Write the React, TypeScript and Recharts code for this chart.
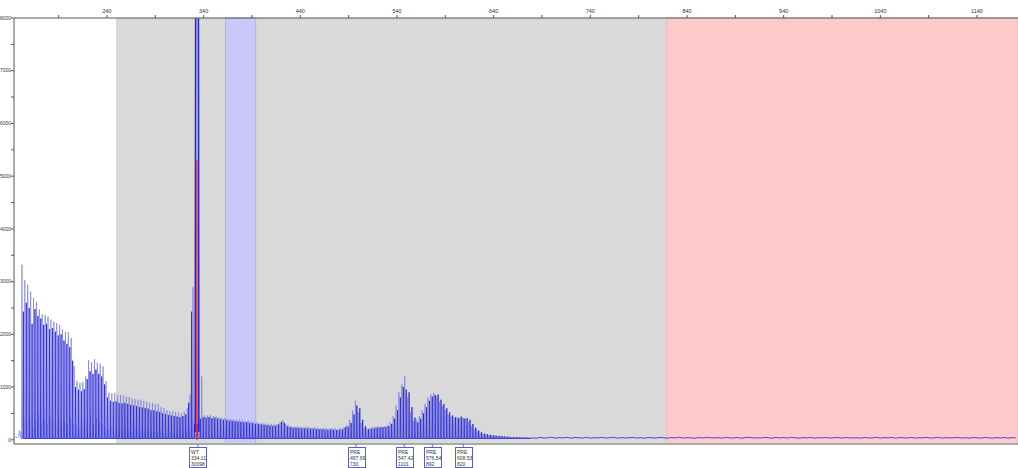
import React from "react";
import { ComposedChart, Line, XAxis, YAxis, ReferenceArea } from "recharts";

// size-standard window (bp) and signal scale
const X_MIN = 143.8;
const X_MAX = 1182.4;
const Y_MIN = -80;
const Y_MAX = 8000;

const TOP_TICKS = [190, 240, 290, 340, 390, 440, 490, 540, 590, 640, 690, 740, 790, 840, 890, 940, 990, 1040, 1090, 1140];
const Y_TICKS = [0, 500, 1000, 1500, 2000, 2500, 3000, 3500, 4000, 4500, 5000, 5500, 6000, 6500, 7000, 7500, 8000];

// shaded bins
const SIZED_RANGE = [249.3, 819];
const MARKER_BAND = [362.7, 393.8];
const OUT_RANGE = [819, 1182.4];

// peak ladder: first peak at 152 bp, one every 3 bp; second set sits 1.5 bp later
const PEAK_START = 152;
const PEAK_STEP = 3;
const DARK_OFFSET = 1.5;
const VALLEY = 25;

const LIGHT_PEAKS = [
  3320, 3030, 2940, 2810, 2690, 2620, 2470, 2380, 2370, 2340, 2280, 2240, 2210, 2180, 2090, 2050, 2040, 1930,
  1390, 1110, 1080, 1100, 1200, 1510, 1470, 1530, 1460, 1440, 1390, 1110,
  890, 880, 890, 850, 850, 840, 820, 810, 780, 770, 760, 760, 740, 720, 700, 700, 680, 680, 620, 600,
  560, 540, 540, 530, 520, 500, 530, 600, 850,
  2900, 300, 300, 1200,
  470, 460, 470, 450, 440, 430, 420, 410, 400, 395, 390, 380, 380, 370, 360, 360, 350, 340, 330, 320,
  320, 310, 300, 300, 290, 300, 330, 370, 300, 270, 260, 250, 260, 250, 240, 250, 240, 230, 240, 230,
  220, 230, 220, 210, 220, 220, 210, 220, 230,
  280, 380, 560, 740, 520, 320, 240, 210, 230, 240, 250, 250, 250, 260, 280, 330, 450, 650, 900, 1050,
  1200, 800, 520, 350, 380, 450, 560, 680, 800, 860, 890, 820, 720, 640, 560, 480, 440, 420, 430, 420,
  420, 400, 330, 260, 200, 160, 130, 110, 100, 90, 80, 80, 70, 70, 60, 60, 60, 50, 50, 50, 50, 45, 45, 40,
];

const DARK_PEAKS = [
  2430, 2600, 2500, 2200, 2480, 2350, 2300, 2180, 2200, 2100, 2120, 2050, 1980, 2000, 1880, 1820, 1760, 1500,
  1000, 950, 920, 960, 1150, 1300, 1250, 1330, 1250, 1200, 1050, 800,
  740, 720, 730, 700, 690, 700, 680, 660, 650, 640, 620, 610, 600, 590, 560, 560, 540, 530, 500, 490,
  470, 460, 450, 440, 430, 450, 480, 700,
  2430, 300, 300, 400, 430,
  420, 430, 410, 420, 400, 390, 380, 370, 360, 360, 350, 345, 340, 330, 330, 320, 315, 300, 300, 290,
  285, 280, 270, 265, 270, 290, 340, 320, 260, 240, 230, 230, 225, 220, 220, 215, 210, 210, 205, 200,
  200, 195, 190, 195, 190, 185, 190, 200, 240,
  250, 320, 480, 650, 600, 380, 260, 200, 210, 220, 230, 235, 240, 240, 260, 300, 400, 560, 800, 1000,
  950, 900, 620, 420, 330, 400, 500, 620, 740, 820, 850, 860, 760, 680, 600, 520, 460, 430, 410, 440,
  400, 410, 380, 300, 230, 180, 150, 120, 105, 95, 85, 80, 75, 70, 65, 60, 55, 55, 50, 50, 45, 45, 40, 40,
];

// small stutter bumps under the ladder, first 60 peaks (sit 0.8 bp before each light peak)
const STUTTER = [
  150, 380, 300, 420, 260, 350, 480, 300, 380, 280, 420, 330, 260, 400, 300, 350, 280, 420, 300, 240,
  200, 260, 310, 380, 450, 300, 420, 350, 300, 250, 200, 260, 180, 240, 200, 160, 220, 180, 150, 200,
  170, 140, 180, 150, 130, 160, 140, 120, 150, 130, 110, 140, 120, 100, 130, 110, 120, 150, 200, 400,
];

// noise before the ladder
const LEAD_IN = [
  { x: 144, y: 30 }, { x: 145.5, y: 55 }, { x: 147, y: 35 }, { x: 148.5, y: 60 }, { x: 149.5, y: 180 }, { x: 150.5, y: 40 },
];

// baseline noise after the ladder, every 4 bp from 680
const TAIL_START = 680;
const TAIL_STEP = 4;
const TAIL = [
  40, 28, 45, 32, 38, 48, 30, 42, 35, 46, 30, 44, 38, 32, 47, 30, 41, 36, 46, 33, 39, 48, 30, 42, 35, 38, 46, 32,
  42, 29, 44, 37, 33, 46, 39, 30, 43, 35, 47, 32, 41, 37, 29, 44, 34, 46, 39, 35, 42, 30, 46, 37, 33, 44, 29, 41,
  47, 35, 38, 33, 44, 39, 29, 46, 35, 42, 33, 47, 37, 31, 43, 35, 46, 30, 41, 37, 44, 33, 39, 46, 31, 43, 37, 35,
  40, 30, 45, 34, 38, 47, 31, 42, 36, 45, 30, 43, 38, 33, 46, 31, 40, 36, 45, 32, 39, 47, 30, 41, 35, 38, 45, 33,
  41, 30, 44, 36, 33, 45, 38, 31, 42, 35, 44, 32, 40, 37,
];

// saturated WT peak (off scale) and its red channel
const WT_BLUE = [
  { x: 331.2, y: 150 }, { x: 331.8, y: 9000 }, { x: 334.5, y: 9000 }, { x: 335.0, y: 150 },
];
const WT_RED = [
  { x: 332.8, y: 0 }, { x: 333.0, y: 5300 }, { x: 333.2, y: 0 },
];

// called peaks
const CALL_POS = [334.11, 497.69, 547.42, 576.54, 608.53];
const CALL_NAME = ["WT", "PRE", "PRE", "PRE", "PRE"];
const CALL_SIZE = ["334.11", "497.69", "547.42", "576.54", "608.53"];
const CALL_HEIGHT = ["30098", "730", "1101", "892", "820"];

function spikes(heights: number[], start: number, half = 0.35) {
  const pts: { x: number; y: number }[] = [];
  heights.forEach((h, i) => {
    const c = start + i * PEAK_STEP;
    pts.push({ x: c - half, y: VALLEY });
    pts.push({ x: c, y: h });
    pts.push({ x: c + half, y: VALLEY });
  });
  return pts;
}

const lightData = [...LEAD_IN, ...spikes(LIGHT_PEAKS, PEAK_START)];
const stutterData = spikes(STUTTER, PEAK_START - 0.8, 0.3);
const darkData = [
  ...spikes(DARK_PEAKS, PEAK_START + DARK_OFFSET),
  ...TAIL.map((v, i) => ({ x: TAIL_START + i * TAIL_STEP, y: v })),
];

const FONT = "'Liberation Sans', Arial, sans-serif";

function CallTick(props: any) {
  const { x, y, payload } = props;
  const i = CALL_POS.indexOf(payload.value);
  if (i < 0) return null;
  const left = Math.round(x - 8.5) + 0.5;
  const top = y + 3.5;
  return (
    <g>
      <line x1={x} y1={y} x2={x} y2={top} stroke="#6a6ad0" />
      <rect x={left} y={top} width={17} height={20} fill="#fff" stroke="#5a5acc" />
      <text x={left + 1.5} y={top + 6} fontSize={5} fill="#333" fontFamily={FONT}>{CALL_NAME[i]}</text>
      <text x={left + 1.5} y={top + 12} fontSize={5} fill="#333" fontFamily={FONT}>{CALL_SIZE[i]}</text>
      <text x={left + 1.5} y={top + 18} fontSize={5} fill="#333" fontFamily={FONT}>{CALL_HEIGHT[i]}</text>
    </g>
  );
}

export default function App() {
  return (
    <div style={{ width: 1018, height: 468, background: "#fff" }}>
      <style>{`body{margin:0}`}</style>
      <ComposedChart width={1018} height={468} margin={{ top: 0, right: 0, bottom: 0, left: 0 }}>
        <XAxis
          xAxisId="bp"
          type="number"
          dataKey="x"
          orientation="top"
          domain={[X_MIN, X_MAX]}
          allowDataOverflow
          ticks={TOP_TICKS}
          interval={0}
          height={18}
          tickSize={3}
          tickMargin={2}
          tickFormatter={(v: number) => ((v - 240) % 100 === 0 ? String(v) : "")}
          tick={{ fontSize: 5.5, fill: "#333", fontFamily: FONT }}
          axisLine={{ stroke: "#555" }}
          tickLine={{ stroke: "#555" }}
        />
        <XAxis
          xAxisId="calls"
          type="number"
          dataKey="x"
          orientation="bottom"
          domain={[X_MIN, X_MAX]}
          allowDataOverflow
          ticks={CALL_POS}
          interval={0}
          height={24}
          tickSize={0}
          tickMargin={0}
          tickLine={false}
          tick={<CallTick />}
          axisLine={{ stroke: "#aaa", strokeWidth: 2 }}
        />
        <YAxis
          type="number"
          domain={[Y_MIN, Y_MAX]}
          allowDataOverflow
          ticks={Y_TICKS}
          interval={0}
          width={14}
          tickSize={3}
          tickMargin={0}
          tickFormatter={(v: number) => (v % 1000 === 0 ? String(v) : "")}
          tick={{ fontSize: 5, fill: "#333", fontFamily: FONT }}
          axisLine={{ stroke: "#555" }}
          tickLine={{ stroke: "#555" }}
        />

        <ReferenceArea xAxisId="bp" x1={SIZED_RANGE[0]} x2={SIZED_RANGE[1]} y1={Y_MIN} y2={Y_MAX} fill="#d9d9d9" fillOpacity={1} stroke="none" />
        <ReferenceArea xAxisId="bp" x1={MARKER_BAND[0]} x2={MARKER_BAND[1]} y1={Y_MIN} y2={Y_MAX} fill="#c9c9fb" fillOpacity={1} stroke="#aeaef0" />
        <ReferenceArea xAxisId="bp" x1={OUT_RANGE[0]} x2={OUT_RANGE[1]} y1={Y_MIN} y2={Y_MAX} fill="#fdcacc" fillOpacity={1} stroke="#f0b4b8" />

        <Line xAxisId="bp" data={stutterData} dataKey="y" type="linear" stroke="#9a9ae8" strokeWidth={0.6} dot={false} activeDot={false} isAnimationActive={false} />
        <Line xAxisId="bp" data={lightData} dataKey="y" type="linear" stroke="#7c7ce6" strokeWidth={0.7} dot={false} activeDot={false} isAnimationActive={false} />
        <Line xAxisId="bp" data={darkData} dataKey="y" type="linear" stroke="#2222d4" strokeWidth={0.8} dot={false} activeDot={false} isAnimationActive={false} />
        <Line xAxisId="bp" data={WT_BLUE} dataKey="y" type="linear" stroke="#2424d6" strokeWidth={1.6} dot={false} activeDot={false} isAnimationActive={false} />
        <Line xAxisId="calls" data={WT_RED} dataKey="y" type="linear" stroke="#e03030" strokeWidth={1.2} dot={false} activeDot={false} isAnimationActive={false} />
      </ComposedChart>
    </div>
  );
}
